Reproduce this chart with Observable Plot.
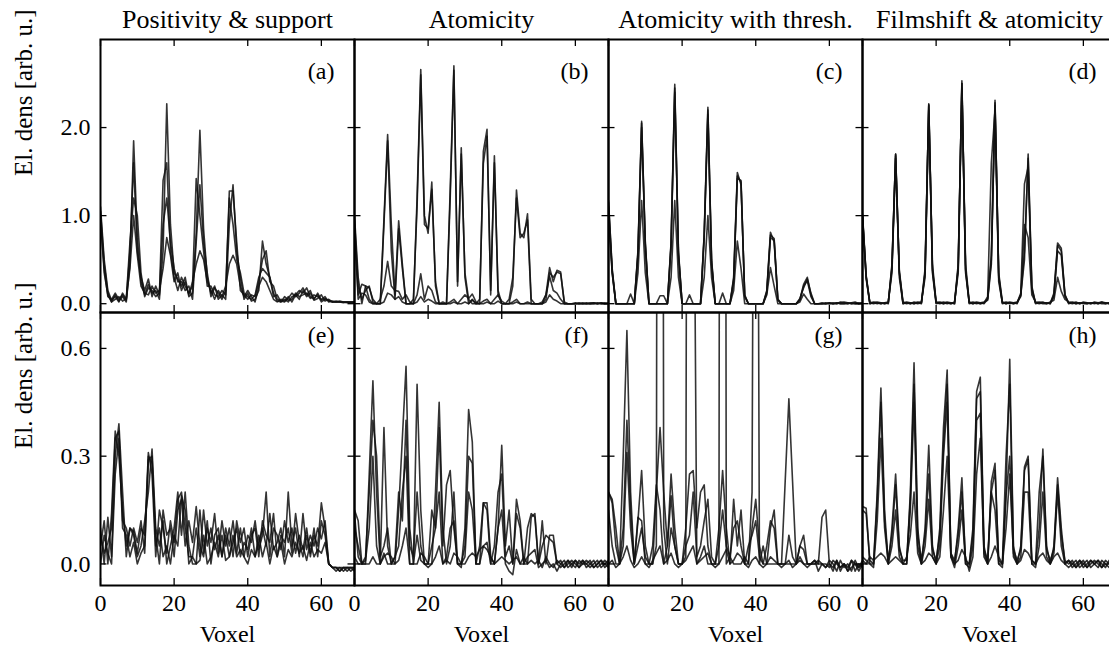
<!DOCTYPE html>
<html><head><meta charset="utf-8">
<script src="https://cdn.jsdelivr.net/npm/d3@7"></script>
<script src="https://cdn.jsdelivr.net/npm/@observablehq/plot@0.6"></script>
<style>
html,body{margin:0;padding:0;background:#fff;overflow:hidden;font-family:"Liberation Serif","Times New Roman",serif;}
#wrap{position:relative;width:1109px;height:648px;overflow:hidden;background:#fff;}
#wrap svg{position:absolute;left:0;max-width:none;overflow:visible;}
#wrap svg text{font-family:"Liberation Serif","Times New Roman","DejaVu Serif",serif !important;}
#warm{position:absolute;left:2px;top:630px;font:14px "Liberation Serif";color:#fff;}
</style></head><body><div id="wrap"><span id="warm">.</span></div>
<script>
const topPanels = ["a","b","c","d"];
const bottomPanels = ["e","f","g","h"];
const titles = ["Positivity & support","Atomicity","Atomicity with thresh.","Filmshift & atomicity"];
const xTicks = [0,20,40,60];
const yTicksTop = [0,1,2];
const yLabelsTop = ["0.0","1.0","2.0"];
const yTicksBottom = [0,0.3,0.6];
const yLabelsBottom = ["0.0","0.3","0.6"];
const yLabel = "El. dens [arb. u.]";
const xLabel = "Voxel";

// (a) Positivity & support, top row
const posSupTop = [
[1.05,0.45,0.12,0.02,0.10,0.03,0.08,0.02,0.45,1.85, 0.75,0.25,0.10,0.22,0.12,0.15,0.05,0.60,2.27,0.90, 0.35,0.28,0.20,0.30,0.08,0.12,0.80,1.97,0.85,0.30, 0.12,0.20,0.05,0.10,0.05,0.90,1.35,0.60,0.30,0.05, 0.12,0.03,0.05,0.15,0.71,0.45,0.30,0.12,0.03,0.02, 0.05,0.02,0.08,0.10,0.15,0.12,0.18,0.08,0.05,0.12, 0.04,0.06,0.03,0.02,0.02,0.02,0.01,0.02,0.02,0.02],
[0.95,0.40,0.08,0.05,0.12,0.05,0.10,0.04,0.60,1.60, 0.60,0.30,0.15,0.28,0.08,0.20,0.10,1.40,1.60,0.60, 0.30,0.15,0.30,0.20,0.12,0.20,1.42,1.00,0.60,0.20, 0.20,0.10,0.08,0.15,0.10,1.28,1.28,0.70,0.15,0.10, 0.05,0.10,0.08,0.25,0.50,0.60,0.25,0.20,0.05,0.03, 0.02,0.06,0.12,0.08,0.12,0.18,0.10,0.15,0.04,0.06, 0.10,0.03,0.05,0.02,0.03,0.02,0.02,0.01,0.02,0.02],
[1.10,0.50,0.15,0.04,0.08,0.02,0.12,0.05,0.70,1.20, 1.00,0.35,0.08,0.18,0.15,0.08,0.12,0.90,1.20,0.70, 0.40,0.25,0.25,0.15,0.20,0.05,0.70,1.35,0.70,0.35, 0.08,0.18,0.12,0.05,0.15,1.20,0.90,0.50,0.35,0.12, 0.08,0.05,0.10,0.30,0.40,0.35,0.30,0.08,0.10,0.02, 0.08,0.04,0.05,0.12,0.08,0.10,0.12,0.06,0.10,0.08, 0.05,0.08,0.02,0.03,0.02,0.03,0.02,0.02,0.01,0.02],
[1.00,0.35,0.10,0.02,0.05,0.08,0.03,0.06,0.40,1.00, 0.55,0.20,0.12,0.10,0.20,0.12,0.15,0.40,0.75,0.55, 0.25,0.35,0.15,0.25,0.10,0.25,0.45,0.60,0.50,0.25, 0.15,0.05,0.15,0.08,0.20,0.45,0.55,0.45,0.20,0.08, 0.15,0.08,0.02,0.20,0.30,0.25,0.15,0.05,0.02,0.05, 0.03,0.08,0.02,0.10,0.05,0.15,0.08,0.12,0.06,0.10, 0.02,0.05,0.04,0.02,0.02,0.02,0.02,0.02,0.02,0.01]
];

// (b) Atomicity, top row
const atomTop = [
[1.00,0.30,0.00,0.20,0.18,0.05,0.00,0.00,0.96,1.92, 0.90,0.10,0.94,0.45,0.00,0.00,0.00,1.20,2.66,1.00, 0.80,1.38,0.20,0.00,0.00,0.00,1.30,2.70,0.20,1.77, 0.30,0.00,0.05,0.00,0.00,1.73,1.98,0.10,1.68,0.10, 0.00,0.00,0.00,0.20,1.29,0.80,0.75,1.02,0.05,0.00, 0.00,0.00,0.10,0.41,0.25,0.38,0.36,0.00,0.00,0.00, 0.00,0.00,0.00,0.00,0.01,0.01,0.00,0.01,0.00,0.00],
[0.95,0.20,0.05,0.15,0.20,0.02,0.00,0.00,0.90,1.85, 0.60,0.05,0.85,0.40,0.00,0.00,0.05,1.10,2.60,0.90, 0.85,1.30,0.25,0.00,0.02,0.00,1.20,2.65,0.25,1.70, 0.35,0.05,0.00,0.00,0.05,1.59,1.90,0.15,1.60,0.15, 0.00,0.00,0.05,0.30,1.20,0.75,0.80,0.95,0.00,0.00, 0.00,0.00,0.05,0.35,0.30,0.36,0.34,0.02,0.00,0.00, 0.01,0.00,0.00,0.01,0.00,0.00,0.01,0.00,0.00,0.01],
[0.90,0.10,0.22,0.20,0.05,0.00,0.00,0.05,0.20,0.48, 0.20,0.15,0.14,0.05,0.10,0.02,0.00,0.10,0.34,0.05, 0.20,0.15,0.02,0.00,0.00,0.00,0.02,0.05,0.00,0.05, 0.10,0.06,0.11,0.02,0.00,0.03,0.05,0.00,0.05,0.10, 0.03,0.00,0.00,0.02,0.05,0.00,0.00,0.02,0.00,0.00, 0.00,0.02,0.10,0.31,0.15,0.12,0.05,0.00,0.00,0.00, 0.00,0.01,0.00,0.00,0.00,0.01,0.00,0.00,0.01,0.00],
[0.85,0.05,0.12,0.10,0.02,0.00,0.00,0.00,0.02,0.12, 0.10,0.05,0.08,0.02,0.00,0.00,0.00,0.02,0.08,0.02, 0.05,0.03,0.00,0.00,0.00,0.00,0.00,0.02,0.00,0.00, 0.02,0.00,0.04,0.00,0.00,0.00,0.02,0.00,0.00,0.03, 0.00,0.00,0.00,0.00,0.02,0.00,0.00,0.00,0.00,0.00, 0.00,0.00,0.02,0.10,0.05,0.03,0.00,0.00,0.00,0.00, 0.00,0.00,0.01,0.00,0.00,0.00,0.00,0.01,0.00,0.00]
];

// (c) Atomicity with threshold, top row
const atomThrTop = [
[1.17,0.40,0.00,0.00,0.00,0.00,0.00,0.00,0.60,2.07, 0.70,0.00,0.00,0.00,0.00,0.00,0.00,0.70,2.49,0.60, 0.00,0.00,0.00,0.00,0.00,0.00,0.80,2.23,0.50,0.00, 0.00,0.00,0.00,0.00,0.30,1.49,1.35,0.10,0.00,0.00, 0.00,0.00,0.00,0.15,0.81,0.70,0.05,0.00,0.00,0.00, 0.00,0.00,0.05,0.22,0.30,0.10,0.00,0.00,0.00,0.01, 0.00,0.01,0.00,0.02,0.01,0.00,0.01,0.02,0.00,0.01],
[1.10,0.35,0.00,0.00,0.00,0.00,0.00,0.00,0.55,2.00, 0.65,0.00,0.00,0.00,0.00,0.00,0.00,0.65,2.40,0.55, 0.00,0.00,0.00,0.00,0.00,0.00,0.75,2.15,0.45,0.00, 0.00,0.00,0.00,0.00,0.25,1.42,1.40,0.08,0.00,0.00, 0.00,0.00,0.00,0.12,0.75,0.72,0.04,0.00,0.00,0.00, 0.00,0.00,0.04,0.20,0.26,0.08,0.00,0.00,0.01,0.00, 0.01,0.00,0.00,0.01,0.02,0.01,0.00,0.00,0.01,0.00],
[1.00,0.35,0.00,0.00,0.00,0.00,0.11,0.00,0.35,1.17, 0.35,0.00,0.00,0.00,0.09,0.09,0.00,0.30,1.17,0.30, 0.00,0.00,0.10,0.00,0.00,0.00,0.30,1.00,0.30,0.00, 0.00,0.12,0.00,0.00,0.15,0.71,0.40,0.00,0.00,0.00, 0.00,0.00,0.00,0.10,0.41,0.20,0.00,0.00,0.00,0.00, 0.00,0.00,0.02,0.11,0.05,0.00,0.00,0.00,0.00,0.00, 0.01,0.00,0.01,0.00,0.00,0.01,0.00,0.01,0.00,0.00],
[1.15,0.38,0.00,0.00,0.00,0.00,0.00,0.00,0.58,2.05, 0.68,0.00,0.00,0.00,0.00,0.00,0.00,0.68,2.45,0.58, 0.00,0.00,0.00,0.00,0.00,0.00,0.78,2.20,0.48,0.00, 0.00,0.00,0.00,0.00,0.28,1.45,1.38,0.09,0.00,0.00, 0.00,0.00,0.00,0.14,0.78,0.74,0.05,0.00,0.00,0.00, 0.00,0.00,0.06,0.18,0.28,0.12,0.00,0.00,0.00,0.00, 0.00,0.00,0.01,0.00,0.00,0.00,0.01,0.00,0.00,0.01]
];

// (d) Filmshift & atomicity, top row
const filmTop = [
[1.00,0.30,0.00,0.01,0.00,0.01,0.00,0.01,0.40,1.70, 0.35,0.01,0.00,0.01,0.00,0.01,0.00,0.35,2.27,0.40, 0.01,0.00,0.01,0.00,0.01,0.00,0.40,2.53,0.40,0.00, 0.01,0.00,0.01,0.00,0.05,0.50,2.31,0.30,0.00,0.01, 0.00,0.01,0.00,0.10,0.50,1.70,0.20,0.00,0.01,0.00, 0.00,0.01,0.10,0.69,0.63,0.10,0.00,0.01,0.00,0.01, 0.00,0.00,0.01,0.00,0.01,0.00,0.00,0.01,0.00,0.00],
[0.98,0.28,0.01,0.00,0.01,0.00,0.01,0.00,0.45,1.68, 0.30,0.00,0.01,0.00,0.01,0.00,0.01,0.40,2.25,0.35, 0.00,0.01,0.00,0.01,0.00,0.01,0.45,2.50,0.35,0.01, 0.00,0.01,0.00,0.01,0.08,1.60,2.20,0.25,0.01,0.00, 0.01,0.00,0.01,0.12,1.36,1.55,0.15,0.01,0.00,0.01, 0.01,0.00,0.08,0.60,0.55,0.08,0.01,0.00,0.01,0.00, 0.01,0.01,0.00,0.01,0.00,0.01,0.01,0.00,0.01,0.01],
[1.02,0.32,0.01,0.02,0.01,0.00,0.01,0.02,0.35,1.65, 0.38,0.02,0.01,0.00,0.02,0.01,0.02,0.30,2.20,0.45, 0.02,0.01,0.02,0.01,0.00,0.02,0.35,2.45,0.45,0.02, 0.00,0.02,0.01,0.02,0.04,0.45,2.25,0.35,0.02,0.00, 0.02,0.01,0.02,0.08,0.90,0.75,0.10,0.02,0.01,0.02, 0.00,0.02,0.04,0.30,0.14,0.05,0.02,0.01,0.02,0.00, 0.02,0.01,0.00,0.02,0.01,0.02,0.00,0.01,0.02,0.01],
[0.99,0.31,0.00,0.01,0.02,0.01,0.00,0.01,0.42,1.70, 0.36,0.00,0.02,0.01,0.00,0.02,0.01,0.36,2.26,0.38, 0.01,0.02,0.00,0.02,0.01,0.00,0.42,2.50,0.38,0.01, 0.02,0.01,0.00,0.01,0.06,0.55,2.28,0.32,0.01,0.02, 0.01,0.00,0.01,0.10,0.60,1.65,0.18,0.01,0.02,0.01, 0.01,0.00,0.12,0.66,0.60,0.10,0.01,0.02,0.00,0.01, 0.01,0.00,0.01,0.01,0.00,0.02,0.01,0.00,0.01,0.00]
];

// (e) Positivity & support, bottom row
const posSupBot = [
[0.05,0.12,0.00,0.14,0.37,0.30,0.15,0.05,0.10,0.09, 0.03,0.10,0.08,0.31,0.25,0.02,0.15,0.10,0.03,0.12, 0.06,0.18,0.20,0.10,0.02,0.02,0.10,0.02,0.15,0.05, 0.10,0.04,0.08,0.02,0.10,0.05,0.12,0.03,0.10,0.02, 0.08,0.06,0.12,0.04,0.08,0.20,0.02,0.10,0.08,0.04, 0.12,0.06,0.10,0.03,0.08,0.04,0.10,0.02,0.08,0.05, 0.17,0.10,0.00,-0.01,-0.01,-0.02,-0.01,-0.01,-0.01,-0.01],
[0.10,0.00,0.13,0.02,0.30,0.39,0.20,0.02,0.10,0.08, 0.02,0.05,0.12,0.20,0.32,0.10,0.05,0.12,0.00,0.05, 0.10,0.20,0.08,0.20,0.05,0.00,0.00,0.15,0.03,0.12, 0.00,0.08,0.10,0.02,0.08,0.02,0.06,0.10,0.02,0.06, 0.04,0.10,0.02,0.06,0.10,0.05,0.14,0.04,0.06,0.10, 0.02,0.20,0.05,0.10,0.02,0.14,0.04,0.08,0.05,0.10, 0.07,0.12,0.00,-0.01,-0.02,-0.01,-0.01,-0.02,-0.01,-0.01],
[0.00,0.08,0.03,0.00,0.25,0.35,0.10,0.08,0.02,0.06, 0.00,0.03,0.05,0.29,0.30,0.05,0.10,0.02,0.05,0.00, 0.08,0.05,0.19,0.15,0.00,0.02,0.00,0.01,0.08,0.00, 0.02,0.06,0.02,0.08,0.01,0.02,0.08,0.02,0.04,0.02, 0.00,0.04,0.02,0.08,0.02,0.06,0.00,0.05,0.02,0.06, 0.00,0.04,0.02,0.06,0.03,0.05,0.01,0.06,0.02,0.04, 0.03,0.06,0.00,-0.01,-0.01,-0.01,-0.02,-0.01,-0.01,-0.02],
[0.08,0.03,0.06,0.10,0.35,0.37,0.12,0.10,0.05,0.10, 0.06,0.12,0.03,0.30,0.28,0.08,0.00,0.15,0.08,0.10, 0.02,0.15,0.18,0.05,0.12,0.06,0.16,0.05,0.02,0.10, 0.06,0.14,0.03,0.12,0.05,0.10,0.02,0.12,0.06,0.10, 0.02,0.08,0.10,0.02,0.12,0.08,0.06,0.14,0.02,0.08, 0.06,0.10,0.03,0.14,0.06,0.02,0.08,0.03,0.10,0.02, 0.12,0.08,0.00,-0.01,-0.01,-0.02,-0.01,-0.01,-0.02,-0.01]
];

// (f) Atomicity, bottom row
const atomBot = [
[0.15,0.12,0.00,0.00,0.25,0.51,0.20,0.00,0.38,0.05, 0.00,0.00,0.15,0.35,0.55,0.10,0.00,0.50,0.15,0.00, -0.01,0.00,0.20,0.45,0.10,0.00,0.05,0.20,0.00,-0.01, 0.10,0.43,0.34,0.00,0.00,0.17,0.17,0.02,0.00,0.10, 0.33,0.05,0.15,0.00,0.18,0.12,0.00,0.00,0.13,0.14, 0.00,0.12,0.00,0.08,0.08,0.00,-0.01,0.00,0.01,-0.01, 0.01,0.00,0.01,-0.01,0.00,0.01,-0.01,0.00,0.01,0.00],
[0.10,0.05,0.00,0.02,0.20,0.40,0.30,0.02,0.05,0.10, 0.00,0.02,0.20,0.12,0.40,0.05,0.02,0.20,0.05,0.00, 0.00,0.15,0.10,0.38,0.05,0.22,0.26,0.10,0.00,0.00, 0.05,0.30,0.28,0.00,0.05,0.17,0.15,0.00,0.05,0.20, 0.25,0.02,0.05,0.00,0.14,0.10,0.00,0.10,0.14,0.13, 0.00,0.05,0.08,0.07,0.06,0.00,0.01,-0.01,0.00,0.01, 0.00,-0.01,0.01,0.00,-0.01,0.00,0.01,-0.01,0.00,0.01],
[0.02,0.00,0.00,0.01,0.10,0.30,0.05,0.00,0.03,0.00, 0.00,0.02,0.05,0.20,0.30,0.00,0.00,0.08,0.01,0.00, 0.00,0.05,0.10,0.20,0.00,0.02,0.10,0.12,0.00,0.00, 0.02,0.20,0.15,0.00,0.00,0.05,0.06,0.00,0.00,0.10, 0.15,0.00,-0.02,-0.03,0.04,0.00,0.00,0.02,0.03,0.04, -0.01,0.00,0.01,-0.01,0.00,-0.02,0.00,0.01,-0.01,0.00, 0.01,-0.01,0.00,0.01,0.00,-0.01,0.00,0.01,-0.01,0.00],
[0.14,0.02,0.00,0.00,0.00,0.02,0.00,0.00,0.02,0.03, 0.02,0.00,0.01,0.05,0.10,0.00,0.00,0.00,0.03,0.02, 0.00,0.00,0.02,0.05,0.00,0.01,0.00,0.03,0.02,0.00, 0.00,0.02,0.03,0.02,0.04,0.05,0.04,0.02,0.00,0.01, 0.02,0.01,0.00,0.01,0.02,0.00,0.02,0.00,0.01,0.00, 0.01,-0.01,0.02,0.00,-0.01,0.01,0.00,-0.01,0.01,0.00, -0.01,0.01,0.00,0.00,0.01,-0.01,0.00,0.01,0.00,-0.01]
];

// (g) Atomicity with threshold, bottom row
const atomThrBot = [
[0.20,0.18,0.10,0.00,0.30,0.65,0.20,0.00,0.05,0.10, 0.02,0.00,0.00,0.05,7.00,0.10,0.00,0.10,0.05,0.00, 0.00,0.02,5.00,1.50,0.00,0.02,0.05,0.00,0.00,0.00, 0.00,8.00,0.00,0.02,0.00,0.00,0.00,0.02,0.00,0.20, 3.00,0.00,0.05,0.00,0.00,0.00,0.00,0.00,0.23,0.46, 0.23,0.00,0.02,0.00,0.00,0.00,0.00,0.00,0.13,0.15, 0.00,-0.01,0.01,-0.02,0.00,-0.01,0.01,-0.02,0.00,-0.01],
[0.20,0.17,0.05,0.00,0.10,0.40,0.15,0.00,0.12,0.26, 0.05,0.00,0.00,0.20,0.38,0.20,0.05,0.25,0.10,0.00, 0.00,0.10,0.25,0.26,0.10,0.20,0.22,0.05,0.00,0.00, 0.10,0.26,0.10,0.00,0.18,0.05,0.15,0.00,0.00,0.10, 0.18,0.05,0.00,0.00,0.10,0.15,0.00,0.00,0.00,0.08, 0.02,0.00,0.05,0.08,0.00,0.00,0.01,0.00,0.00,-0.01, 0.01,0.00,-0.02,0.01,-0.01,0.00,-0.02,0.01,-0.01,0.00],
[0.15,0.05,0.00,0.00,0.05,0.31,0.10,0.00,0.13,0.12, 0.00,0.00,0.05,0.22,0.15,0.00,0.05,0.19,0.05,0.00, 0.00,0.05,0.08,0.20,0.02,0.05,0.12,0.18,0.02,0.00, 0.05,0.15,0.05,0.02,0.10,0.12,0.05,0.00,0.05,0.08, 0.12,0.02,0.00,0.05,0.12,0.10,0.00,0.00,0.00,0.00, 0.00,0.00,0.05,0.04,0.00,0.00,0.00,0.01,0.00,0.00, -0.01,0.01,0.00,-0.01,0.00,-0.02,0.01,0.00,-0.01,0.01],
[0.00,0.01,-0.01,0.00,0.02,0.05,0.01,-0.01,0.00,0.02, 0.00,-0.01,0.01,0.03,0.05,0.00,0.01,0.03,0.00,-0.01, 0.00,0.01,0.03,0.05,0.00,0.01,0.02,0.03,0.00,-0.01, 0.00,0.02,0.04,0.00,0.01,0.03,0.02,0.00,-0.01,0.01, 0.02,0.00,-0.01,0.00,0.02,0.01,0.00,-0.01,0.00,0.01, -0.01,0.00,0.01,0.00,-0.01,0.00,0.01,-0.02,0.00,-0.01, 0.00,-0.02,0.01,-0.01,0.00,-0.02,-0.01,0.00,-0.02,0.00]
];

// (h) Filmshift & atomicity, bottom row
const filmBot = [
[0.16,0.155,0.00,0.00,0.20,0.49,0.15,0.00,0.10,0.25, 0.05,0.00,0.00,0.20,0.56,0.10,0.00,0.10,0.33,0.05, 0.00,0.10,0.38,0.54,0.02,0.00,0.10,0.24,0.00,0.00, 0.10,0.48,0.52,0.05,0.00,0.23,0.28,0.00,0.00,0.20, 0.57,0.05,0.00,0.05,0.27,0.30,0.00,0.00,0.10,0.32, 0.05,0.00,0.05,0.24,0.10,0.00,0.01,-0.01,0.00,0.01, -0.01,0.00,0.01,0.00,-0.01,0.01,0.00,-0.01,0.00,0.01],
[0.15,0.14,0.01,0.00,0.18,0.45,0.12,0.01,0.08,0.22, 0.04,0.01,0.01,0.18,0.50,0.08,0.01,0.08,0.25,0.04, 0.01,0.08,0.33,0.50,0.03,0.01,0.08,0.20,0.01,0.00, 0.08,0.46,0.48,0.04,0.01,0.20,0.26,0.01,0.00,0.30, 0.50,0.04,0.01,0.04,0.26,0.29,0.01,0.00,0.20,0.30, 0.04,0.01,0.04,0.22,0.08,0.01,0.00,0.01,-0.01,0.00, 0.01,-0.01,0.00,0.01,0.00,-0.01,0.01,0.00,-0.01,0.00],
[0.02,0.01,0.00,-0.01,0.12,0.35,0.10,0.00,0.05,0.15, 0.02,0.00,0.00,0.15,0.45,0.05,0.00,0.05,0.18,0.02, 0.00,0.05,0.30,0.45,0.02,-0.01,0.05,0.15,0.00,-0.01, 0.05,0.40,0.42,0.02,0.00,0.20,0.15,0.00,-0.01,0.19, 0.30,0.02,0.00,0.02,0.20,0.20,0.00,-0.01,0.05,0.20, 0.02,0.00,0.03,0.20,0.05,0.00,-0.01,0.00,0.01,-0.01, 0.00,0.01,-0.01,0.00,0.01,-0.01,0.00,0.00,0.01,-0.01],
[0.01,0.00,0.02,0.01,0.02,0.03,0.02,0.00,0.01,0.02, 0.01,0.00,0.02,0.08,0.20,0.03,0.00,0.01,0.03,0.02, 0.00,0.02,0.15,0.30,0.03,0.00,0.01,0.04,0.02,-0.02, 0.02,0.25,0.35,0.03,0.00,0.02,0.05,0.02,0.00,0.10, 0.25,0.03,0.00,0.01,0.04,0.03,0.01,0.00,0.02,0.03, 0.01,0.00,0.02,0.03,0.01,0.00,0.01,0.00,-0.01,0.01, 0.00,-0.01,0.01,0.00,0.01,0.00,-0.01,0.01,0.00,0.00]
];

function rows(panel, seriesList) {
  return seriesList.flatMap((s, k) => s.map((val, v) => ({panel, series: panel + k, v, val})));
}

const FONT = "Liberation Serif, Times New Roman, serif";
const W = 1117, ML = 99, FW = (W - ML) / 4, PH = 273, TICK = 7;

function makeRow({panels, data, yDomain, yTicks, yLabels, marginTop, marginBottom, letterDy, withTitles}) {
  const height = marginTop + PH + marginBottom;
  const txt = {fontFamily: FONT};
  const marks = [
    Plot.line(data, {x: "v", y: "val", z: "series", fx: "panel", stroke: "#111", strokeOpacity: 0.85, strokeWidth: 1.6, clip: true}),
    Plot.tickX(xTicks, {x: d => d, insetTop: PH - TICK, stroke: "#000", strokeWidth: 1.3}),
    Plot.tickX(xTicks, {x: d => d, insetBottom: PH - TICK, stroke: "#000", strokeWidth: 1.3}),
    Plot.tickY(yTicks, {y: d => d, insetRight: FW - TICK, stroke: "#000", strokeWidth: 1.3}),
    Plot.tickY(yTicks, {y: d => d, insetLeft: FW - TICK, stroke: "#000", strokeWidth: 1.3}),
    Plot.frame({stroke: "#000", strokeWidth: 2}),
    Plot.text(yTicks.map((t, i) => ({panel: panels[0], t, label: yLabels[i]})),
      {...txt, fx: "panel", y: "t", text: "label", frameAnchor: "left", textAnchor: "end", lineAnchor: "middle", dx: -10, fontSize: 24}),
    Plot.text([{panel: panels[0], label: yLabel}],
      {...txt, fx: "panel", text: "label", frameAnchor: "left", rotate: -90, dx: -77, lineAnchor: "middle", fontSize: 25}),
    Plot.text(panels.map(p => ({panel: p, label: "(" + p + ")"})),
      {...txt, fx: "panel", text: "label", frameAnchor: "top-right", textAnchor: "end", lineAnchor: "middle", dx: -20, dy: letterDy, fontSize: 24})
  ];
  if (withTitles) {
    marks.push(Plot.text(panels.map((p, i) => ({panel: p, label: titles[i]})),
      {...txt, fx: "panel", text: "label", frameAnchor: "top", lineAnchor: "middle", dy: -20, fontSize: 26}));
  } else {
    marks.push(Plot.text(xTicks, {...txt, x: d => d, text: d => String(d), frameAnchor: "bottom", lineAnchor: "middle", dy: 18, fontSize: 24}));
    marks.push(Plot.text([xLabel], {...txt, text: d => d, frameAnchor: "bottom", lineAnchor: "middle", dy: 49, fontSize: 24}));
  }
  return Plot.plot({
    width: W, height, marginLeft: ML, marginRight: 0, marginTop, marginBottom,
    x: {domain: [0, 69], axis: null},
    y: {domain: yDomain, axis: null},
    fx: {domain: panels, padding: 0, axis: null},
    style: {fontFamily: FONT, background: "transparent", overflow: "visible", maxWidth: "none"},
    marks
  });
}

const topData = [
  ...rows("a", posSupTop), ...rows("b", atomTop), ...rows("c", atomThrTop), ...rows("d", filmTop)
];
const botData = [
  ...rows("e", posSupBot), ...rows("f", atomBot), ...rows("g", atomThrBot), ...rows("h", filmBot)
];

const wrap = document.getElementById("wrap");
let charts = [];
function draw() {
  charts.forEach(c => c.remove());
  const topChart = makeRow({panels: topPanels, data: topData, yDomain: [-0.1, 3.0], yTicks: yTicksTop, yLabels: yLabelsTop,
    marginTop: 39, marginBottom: 4, letterDy: 32, withTitles: true});
  const botChart = makeRow({panels: bottomPanels, data: botData, yDomain: [-0.06, 0.7], yTicks: yTicksBottom, yLabels: yLabelsBottom,
    marginTop: 12, marginBottom: 63, letterDy: 23, withTitles: false});
  topChart.style.top = "0px";
  botChart.style.top = "300px";
  wrap.appendChild(topChart);
  wrap.appendChild(botChart);
  charts = [topChart, botChart];
}
draw();
if (document.fonts && document.fonts.load) {
  document.fonts.load('24px "Liberation Serif"').then(draw).catch(() => {});
}
</script>
</body></html>
